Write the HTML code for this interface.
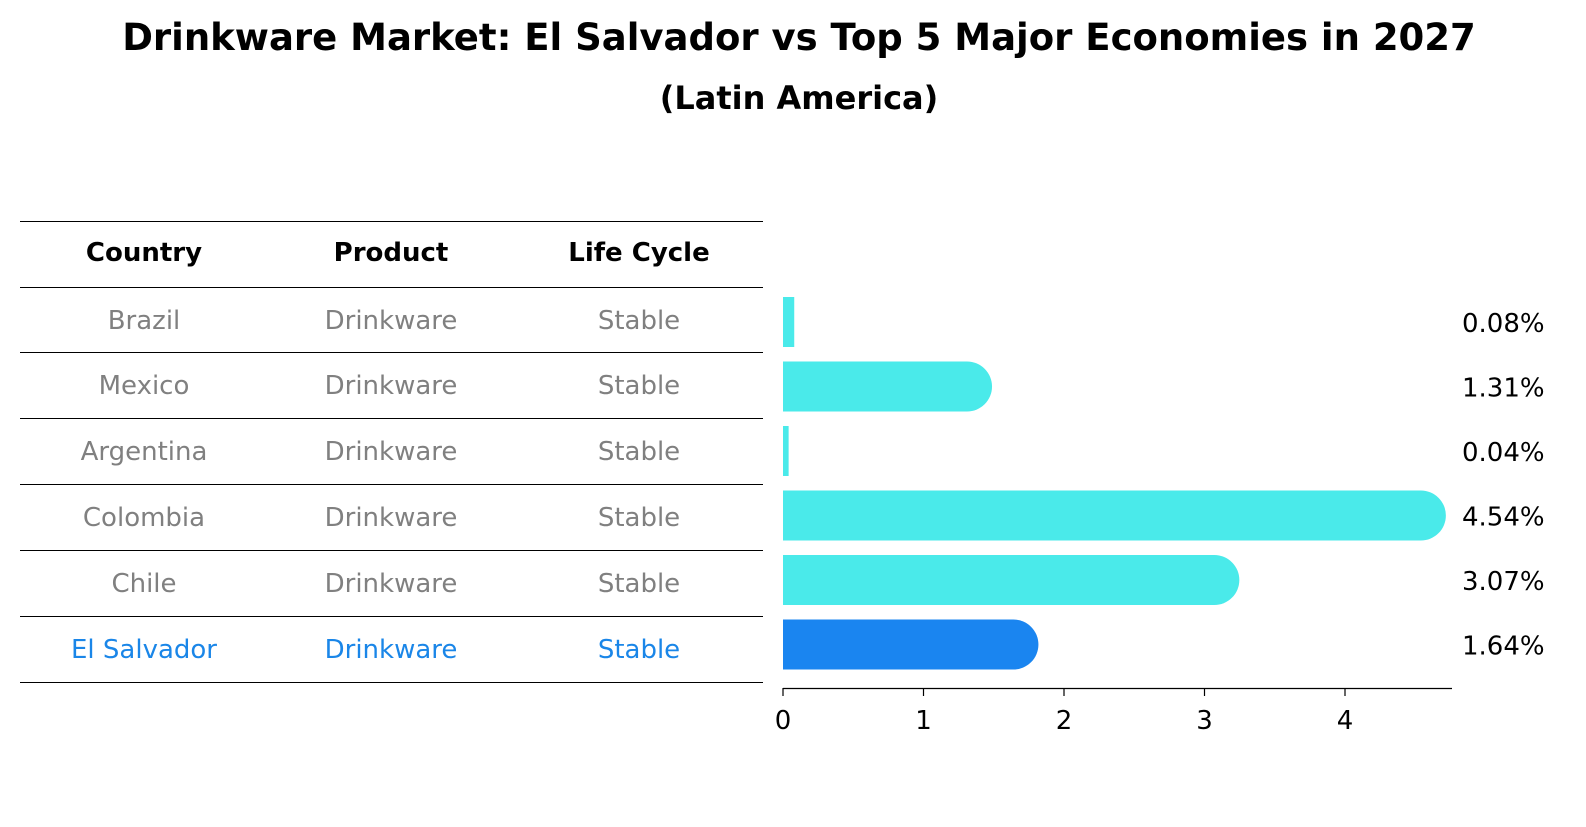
<!DOCTYPE html>
<html><head><meta charset="utf-8"><style>
body{margin:0;background:#fff;font-family:"DejaVu Sans","Liberation Sans",sans-serif}
</style></head><body>
<svg id="c" width="1586" height="823" xmlns="http://www.w3.org/2000/svg" font-family="DejaVu Sans, Liberation Sans, sans-serif">
<text x="799" y="50" text-anchor="middle" font-size="37" font-weight="bold">Drinkware Market: El Salvador vs Top 5 Major Economies in 2027</text>
<text x="799" y="109" text-anchor="middle" font-size="32" font-weight="bold">(Latin America)</text>
<g id="tbl"></g>
<g id="bars"></g>
</svg>
<script>
const countries=["Brazil","Mexico","Argentina","Colombia","Chile","El Salvador"];
const products=["Drinkware","Drinkware","Drinkware","Drinkware","Drinkware","Drinkware"];
const cycles=["Stable","Stable","Stable","Stable","Stable","Stable"];
const values=[0.08,1.31,0.04,4.54,3.07,1.64];
const labels=["0.08%","1.31%","0.04%","4.54%","3.07%","1.64%"];
const ticks=[0,1,2,3,4];
const NS="http://www.w3.org/2000/svg";
function mk(t,a,p,txt){const e=document.createElementNS(NS,t);for(const k in a)e.setAttribute(k,a[k]);if(txt!==undefined)e.textContent=txt;p.appendChild(e);return e;}
const xs=v=>783+v*140.5;
const ys=i=>322+i*64.5;
const tbl=document.getElementById('tbl'),bars=document.getElementById('bars');
const lineYs=[221,287,352,418,484,550,616,682];
lineYs.forEach(y=>{const l=mk('line',{x1:20,x2:763,y1:y+0.5,y2:y+0.5,stroke:'#000','stroke-width':1},tbl);

});
const cx=[144,391,639];
["Country","Product","Life Cycle"].forEach((h,j)=>{const t=mk('text',{x:cx[j],y:261,'text-anchor':'middle','font-size':26,'font-weight':'bold'},tbl,h);

});
countries.forEach((c,i)=>{const col=i==5?'#1a86e8':'#808080';const y=lineYs[i+1]+33+9;
[c,products[i],cycles[i]].forEach((s,j)=>{const t=mk('text',{x:cx[j],y:y,'text-anchor':'middle','font-size':26,fill:col},tbl,s);

});});
values.forEach((v,i)=>{const x0=xs(0),x1=xs(v),y=ys(i),r=25;const col=i==5?'#1a85f0':'#4aeaea';
let d;if(x1-x0>r*2){d=`M${x0},${y-r}H${x1}A${r},${r} 0 0 1 ${x1},${y+r}H${x0}Z`;}else{d=`M${x0},${y-r}H${x1}V${y+r}H${x0}Z`;}
const p=mk('path',{d:d,fill:col},bars);


const t=mk('text',{x:1462,y:y+10,'font-size':26},bars,labels[i]);

});
const ax=mk('line',{x1:783,x2:1452,y1:688.5,y2:688.5,stroke:'#000','stroke-width':1.2},bars);


ticks.forEach(t=>{const l=mk('line',{x1:xs(t),x2:xs(t),y1:688,y2:696,stroke:'#000','stroke-width':1.2},bars);


const tx=mk('text',{x:xs(t),y:729,'text-anchor':'middle','font-size':26},bars,String(t));

});
</script>
</body></html>
